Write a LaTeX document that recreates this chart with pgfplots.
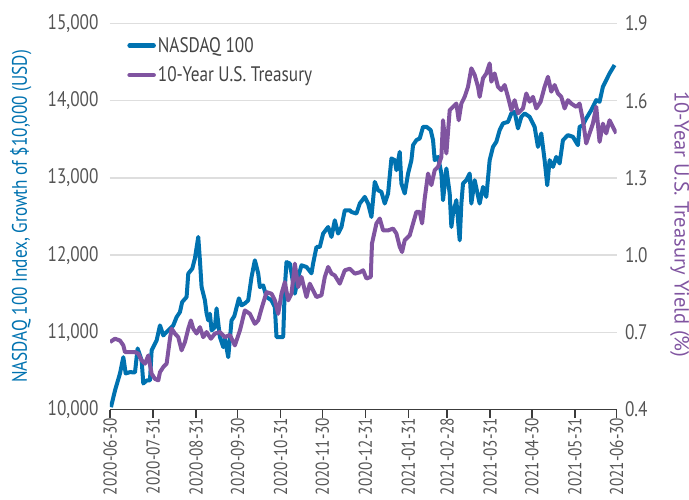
\documentclass[border=0pt]{standalone}
\usepackage{fontspec}
\setmainfont{PT Sans}[FakeStretch=0.82]
\newfontfamily\widefont{PT Sans}
\usepackage{pgfplots}
\usepackage{pgfplotstable}
\pgfplotsset{compat=1.18}
\definecolor{nblue}{RGB}{0,114,176}
\definecolor{tpurple}{RGB}{128,84,160}
\definecolor{tickgray}{RGB}{85,85,85}
\definecolor{gridgray}{RGB}{222,222,222}
\definecolor{axisgray}{RGB}{60,60,60}

\pgfplotstableread{
d v
0.7 10030
3.6 10246
7.2 10467
9.6 10678
11.3 10467
14.4 10484
18 10480
19.9 10791
22.8 10636
24 10337
26.4 10376
28.8 10376
30 10765
33.6 10895
36 11089
38.4 10960
42 11025
45.6 11089
48 11197
50.4 11262
52 11392
55.2 11457
56.4 11760
59.3 11825
61.2 11958
63.6 12235
64.8 11933
66 11586
68.4 11414
69.6 11245
70.8 11154
72 11241
73.2 11025
75.6 11067
76.8 11310
79.2 10938
81.6 10808
82.8 10917
85.2 10678
87.6 11154
89.6 11210
92.9 11440
94.8 11349
97.2 11375
99.6 11414
102 11716
104.4 11933
106.8 11764
108 11586
110.4 11608
112.8 11457
116.4 11414
118.8 11327
120 10938
122.4 10938
124.8 10938
126 11586
127.2 11910
129.6 11890
130.8 11764
133.2 11501
135.6 11716
138 11868
141.6 11846
145.2 11764
146.4 11894
148.8 12105
151.2 12105
153.6 12279
157.2 12364
159.6 12235
162 12451
164.4 12279
166.8 12364
169.2 12581
172.8 12581
174 12559
177.6 12538
180 12668
183.6 12754
186 12668
188.4 12494
190.8 12948
193.2 12840
195.6 12818
198 12668
200.4 12798
202.8 13252
205.2 13230
206.4 13100
208.8 13337
210 12927
212.4 12798
214.8 13057
217.2 13230
218.4 13424
220.8 13489
223.2 13511
225.6 13661
228.2 13661
231.1 13619
232.8 13489
234 13230
236.4 13272
238.8 13057
240 12711
242.4 13122
244.8 12798
246 12364
247.2 12538
249.6 12711
252 12192
253.2 12668
254.4 12927
256.8 12970
259.2 13057
260.4 12668
262.8 12970
266.4 12668
268.8 12883
271.2 12754
273.6 13230
276 13402
278.4 13467
280.8 13619
283.2 13706
286.8 13726
289.2 13835
291.6 13856
294 13641
296.4 13791
298.8 13835
302.4 13791
306 13661
308.4 13402
310.8 13576
313.2 13230
315.1 12905
316.8 13230
319.2 13143
321.6 13272
324 13187
326.4 13489
330 13554
333.6 13532
337.2 13424
338.4 13661
340.8 13683
343.2 13770
346.8 13878
350.4 14008
352.8 13986
355.2 14180
357.6 14267
360 14354
363.6 14462
}\nasdaq

\pgfplotstableread{
d v
0 0.662
3.6 0.675
7.2 0.668
9.6 0.649
10.8 0.623
14.4 0.623
18 0.623
20.4 0.617
22.8 0.591
25.2 0.578
27.6 0.610
30 0.539
32.4 0.519
34.8 0.513
36 0.545
38.4 0.565
40.8 0.578
43.2 0.675
44.4 0.714
46.8 0.695
49.2 0.681
51.6 0.630
54 0.662
56.4 0.714
58.3 0.746
60 0.714
62.4 0.695
64.8 0.720
67.2 0.681
69.6 0.701
72.7 0.675
75.6 0.695
79.2 0.701
82.8 0.681
86.4 0.690
90 0.649
93.6 0.707
97.2 0.785
100.8 0.772
104.4 0.733
106.8 0.746
109.2 0.792
112.8 0.856
116.4 0.850
118.8 0.824
121.2 0.772
123.6 0.850
126 0.895
128.4 0.824
130.8 0.850
133.2 0.967
135.6 0.876
138 0.915
141.6 0.837
144 0.889
146.4 0.863
148.8 0.837
152.4 0.844
154.8 0.915
157.2 0.954
159.6 0.928
162 0.921
165.6 0.889
169.2 0.941
172.8 0.947
176.4 0.928
180 0.933
182.4 0.941
184.8 0.909
187.9 0.915
188.8 1.045
192 1.123
194.4 1.142
196.8 1.096
200.4 1.096
204 1.103
206.4 1.084
208.8 1.032
210.5 1.012
212.4 1.058
216 1.077
218.4 1.123
220.8 1.168
223.2 1.168
224.9 1.123
226.8 1.220
229.2 1.317
231.6 1.272
234 1.330
236.4 1.343
238.8 1.382
240 1.524
242.4 1.395
244.8 1.563
247.2 1.576
249.6 1.589
251.3 1.524
253.2 1.589
255.6 1.615
258 1.654
260.4 1.726
262.8 1.700
265.2 1.654
266.4 1.615
268.8 1.687
271.2 1.706
273.6 1.745
274.8 1.674
277.2 1.706
279.6 1.654
282 1.641
284.4 1.661
286.8 1.615
289.2 1.563
291.6 1.602
294 1.551
297.6 1.570
300 1.628
302.4 1.596
304.8 1.615
307.2 1.570
310.3 1.596
313.2 1.654
315.6 1.693
318 1.635
320.4 1.661
322.8 1.628
325.2 1.615
327.6 1.570
330 1.602
332.4 1.589
336 1.576
338.4 1.589
340.8 1.524
343.2 1.434
345.6 1.473
348 1.511
350.4 1.576
352.8 1.440
355.2 1.511
357.6 1.473
360 1.524
362.4 1.498
364.8 1.473
}\treasury

\begin{document}
\begin{tikzpicture}[x=1pt,y=1pt]
\useasboundingbox (0,0) rectangle (689,499);
\pgfplotsset{
  base/.style={
    at={(110pt,89.5pt)}, anchor=south west,
    scale only axis, width=506.5pt, height=386pt,
    xmin=0, xmax=365,
    /pgf/number format/assume math mode=true,
    tick label style={color=tickgray, font=\fontsize{21}{21}\selectfont},
    label style={font=\fontsize{21}{22}\selectfont},
  }
}
\begin{axis}[base,
  ymin=10000, ymax=15000,
  axis x line*=bottom, axis y line*=left,
  y axis line style={draw=none},
  x axis line style={draw=axisgray, line width=1.6pt},
  ytick={10000,11000,12000,13000,14000,15000},
  ymajorgrids, grid style={draw=gridgray, line width=1.4pt},
  ytick style={draw=none},
  yticklabel style={/pgf/number format/.cd, 1000 sep={,}},
  scaled y ticks=false,
  xtick={0,31,62,92,123,153,184,215,243,274,304,335,365},
  xticklabels={2020-06-30,2020-07-31,2020-08-31,2020-09-30,2020-10-31,2020-11-30,2020-12-31,2021-01-31,2021-02-28,2021-03-31,2021-04-30,2021-05-31,2021-06-30},
  xticklabel style={rotate=90, anchor=east, font=\fontsize{18.6}{19}\selectfont, xshift=1pt, inner sep=1pt},
  xtick style={draw=axisgray, line width=1.6pt},
  tick align=outside, major tick length=8pt,
  ylabel={NASDAQ 100 Index, Growth of \$10,000 (USD)},
  ylabel style={color=nblue, at={(axis description cs:-0.176,0.5)}, anchor=center},
  legend style={draw=none, fill=none, at={(axis description cs:0.028,0.975)}, anchor=north west,
    font=\fontsize{21}{24}\selectfont, text=tickgray!80!black, row sep=9pt,
    legend cell align=left},
  legend image code/.code={\draw[#1, line width=4.5pt, line cap=round] (0pt,0pt) -- (24pt,0pt);},
]
\addplot[color=nblue, line width=4pt, line join=round] table[x=d,y=v] {\nasdaq};
\addlegendentry{NASDAQ 100}
\addlegendimage{color=tpurple, line width=4pt}
\addlegendentry{10-Year U.S. Treasury}
\end{axis}
\begin{axis}[base,
  ymin=0.4, ymax=1.9,
  axis x line=none, axis y line*=right,
  y axis line style={draw=none},
  ytick={0.4,0.7,1.0,1.3,1.6,1.9},
  ytick style={draw=none},
  yticklabel style={xshift=5pt, /pgf/number format/.cd, fixed, fixed zerofill, precision=1},
  ylabel={10-Year U.S. Treasury Yield (\%)},
  ylabel style={color=tpurple, font=\widefont\fontsize{20.5}{21}\selectfont, at={(axis description cs:1.1245,0.48)}, anchor=center, rotate=180},
]
\addplot[color=tpurple, line width=4pt, line join=round] table[x=d,y=v] {\treasury};
\end{axis}
\end{tikzpicture}
\end{document}
